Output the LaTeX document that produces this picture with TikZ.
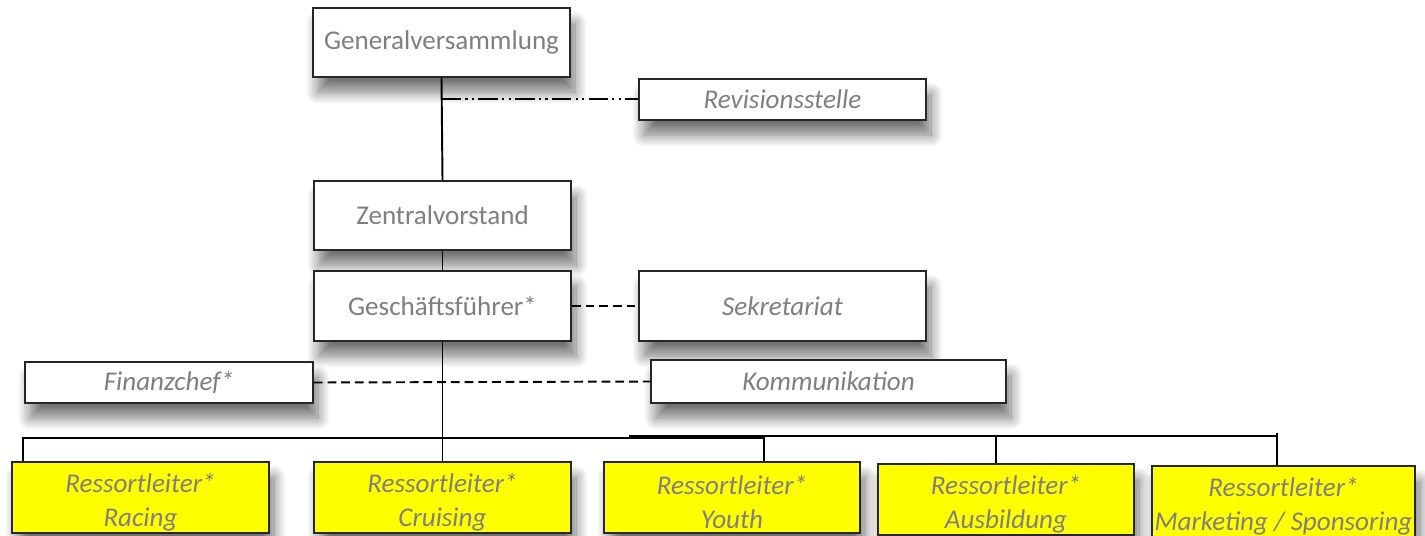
\documentclass[tikz,border=0pt]{standalone}
\usepackage{fontspec}
\setmainfont{Carlito}
\usetikzlibrary{calc,shadows.blur}
\definecolor{labelgray}{RGB}{127,127,127}
\definecolor{ressortyellow}{RGB}{255,255,0}
\newcommand{\toprule}{\rule{0pt}{0.58cm}}
\tikzset{
  orgbox/.style={draw=black!85, line width=0.9pt, fill=white, text=labelgray,
    inner xsep=1pt, inner ysep=0pt, align=center,
    font=\fontsize{15.4}{19.4}\selectfont,
    blur shadow={shadow xshift=0.1cm, shadow yshift=-0.3cm,
      shadow blur radius=0.24cm, shadow blur steps=14, shadow opacity=55}},
  staffbox/.style={orgbox, font=\fontsize{15.4}{19.4}\selectfont\itshape},
  ressortbox/.style={staffbox, fill=ressortyellow},
  link/.style={line width=1.1pt},
  dashlink/.style={link, dash pattern=on 5pt off 2.8pt},
  revlink/.style={link, dash pattern=on 11pt off 2.5pt on 1.2pt off 2.5pt on 1.2pt off 2.5pt},
}

\begin{document}
\begin{tikzpicture}
		\useasboundingbox (0,0) rectangle (28.5,-10.7);
		%%%%% TOP %%%%%
		\node[orgbox, minimum width=5.14cm, minimum height=1.38cm] (gv) at (8.83,-0.85) {Generalversammlung};
		\node[staffbox, minimum width=5.74cm, minimum height=0.82cm] (rev) at (15.65,-1.99) {Revisionsstelle};
		\node[orgbox, minimum width=5.14cm, minimum height=1.38cm] (zv) at (8.85,-4.31) {Zentralvorstand};
		\node[orgbox, minimum width=5.14cm, minimum height=1.40cm] (gf) at (8.85,-6.12) {Geschäftsführer*};
		\node[staffbox, minimum width=5.74cm, minimum height=1.40cm] (sek) at (15.65,-6.12) {Sekretariat};
		\node[staffbox, minimum width=5.76cm, minimum height=0.82cm] (fin) at (3.38,-7.65) {Finanzchef*};
		\node[staffbox, minimum width=7.10cm, minimum height=0.86cm] (kom) at (16.57,-7.63) {Kommunikation};
		
		%%%%% RESSORTS %%%%%
		\node[ressortbox, minimum width=5.14cm, minimum height=1.42cm] (rac) at (2.81,-9.95) {\toprule Ressortleiter*\\Racing};
		\node[ressortbox, minimum width=5.14cm, minimum height=1.42cm] (cru) at (8.85,-9.95) {\toprule Ressortleiter*\\Cruising};
		\node[ressortbox, minimum width=5.12cm, minimum height=1.42cm] (you) at (14.64,-9.95) {\toprule Ressortleiter*\\Youth};
		\node[ressortbox, minimum width=5.12cm, minimum height=1.42cm] (aus) at (20.12,-9.99) {\toprule Ressortleiter*\\Ausbildung};
		\node[ressortbox, minimum width=5.26cm, minimum height=1.42cm] (mar) at (25.67,-10.03) {\toprule Ressortleiter*\\Marketing / Sponsoring};
		
		%%%%% LINES %%%%%
		\draw[link] (gv.south) -- (zv.north);
		\coordinate (revtap) at ($(gv.south)!0.21!(zv.north)$);
		\draw[revlink] (revtap) -- (revtap -| rev.west);
		\draw[link] (zv.south) -- (gf.north);
		\draw[dashlink] (gf.east) -- (sek.west);
		\draw[dashlink] (fin.east) -- (kom.west);
		\draw[link] (gf.south) -- (cru.north);
		
		\coordinate (dropR) at ([xshift=0.24cm]rac.north west);
		\coordinate (dropY) at ([xshift=0.64cm]you.north);
		\coordinate (dropA) at ([xshift=-0.2cm]aus.north);
		\coordinate (dropM) at ([xshift=-0.13cm]mar.north);
		\coordinate (busY) at (dropY |- 0,-8.76);
		\coordinate (busS) at (12.58,-8.72);
		\draw[link] (dropR) |- (busY) -- (dropY);
		\draw[line width=1.4pt] (busS) -- (busS -| dropM);
		\draw[link] (dropA |- busS) -- (dropA);
		\draw[link] (dropM |- 0,-8.65) -- (dropM);
\end{tikzpicture}
\end{document}
